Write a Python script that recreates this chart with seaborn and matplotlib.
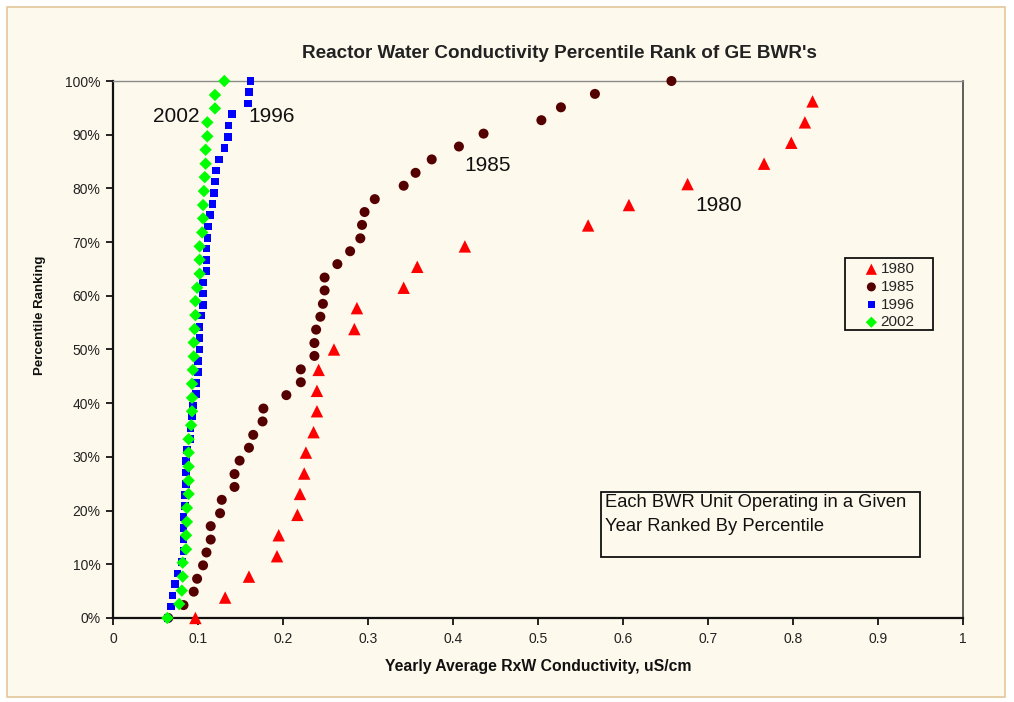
import matplotlib
matplotlib.use("Agg")
import matplotlib.pyplot as plt
import seaborn as sns
from matplotlib.patches import Rectangle
from matplotlib.ticker import FuncFormatter

# ---------------- data ----------------
series_names = ["1980", "1985", "1996", "2002"]

x_1980 = [0.097, 0.132, 0.160, 0.193, 0.195, 0.217, 0.220, 0.225, 0.227, 0.236,
          0.240, 0.240, 0.242, 0.260, 0.284, 0.287, 0.342, 0.358, 0.414, 0.559,
          0.607, 0.676, 0.766, 0.798, 0.814, 0.823]
y_1980 = [0.0, 3.8, 7.7, 11.5, 15.4, 19.2, 23.1, 26.9, 30.8, 34.6,
          38.5, 42.3, 46.2, 50.0, 53.8, 57.7, 61.5, 65.4, 69.2, 73.1,
          76.9, 80.8, 84.6, 88.5, 92.3, 96.2]

x_1985 = [0.065, 0.083, 0.095, 0.099, 0.106, 0.110, 0.115, 0.115, 0.126, 0.128,
          0.143, 0.143, 0.149, 0.160, 0.165, 0.176, 0.177, 0.204, 0.221, 0.221,
          0.237, 0.237, 0.239, 0.244, 0.247, 0.249, 0.249, 0.264, 0.279, 0.291,
          0.293, 0.296, 0.308, 0.342, 0.356, 0.375, 0.407, 0.436, 0.504, 0.527,
          0.567, 0.657]
y_1985 = [0.0, 2.4, 4.9, 7.3, 9.8, 12.2, 14.6, 17.1, 19.5, 22.0,
          24.4, 26.8, 29.3, 31.7, 34.1, 36.6, 39.0, 41.5, 43.9, 46.3,
          48.8, 51.2, 53.7, 56.1, 58.5, 61.0, 63.4, 65.9, 68.3, 70.7,
          73.2, 75.6, 78.0, 80.5, 82.9, 85.4, 87.8, 90.2, 92.7, 95.1,
          97.6, 100.0]

x_1996 = [0.064, 0.068, 0.070, 0.073, 0.076, 0.081, 0.083, 0.083, 0.083, 0.083,
          0.085, 0.085, 0.086, 0.086, 0.086, 0.087, 0.091, 0.091, 0.093, 0.094,
          0.098, 0.098, 0.100, 0.100, 0.102, 0.102, 0.102, 0.104, 0.106, 0.106,
          0.106, 0.110, 0.110, 0.110, 0.111, 0.112, 0.114, 0.117, 0.119, 0.120,
          0.121, 0.125, 0.131, 0.135, 0.136, 0.140, 0.159, 0.160, 0.162]
y_1996 = [0.0, 2.1, 4.2, 6.3, 8.3, 10.4, 12.5, 14.6, 16.7, 18.8,
          20.8, 22.9, 25.0, 27.1, 29.2, 31.3, 33.3, 35.4, 37.5, 39.6,
          41.7, 43.8, 45.8, 47.9, 50.0, 52.1, 54.2, 56.3, 58.3, 60.4,
          62.5, 64.6, 66.7, 68.8, 70.8, 72.9, 75.0, 77.1, 79.2, 81.3,
          83.3, 85.4, 87.5, 89.6, 91.7, 93.8, 95.8, 97.9, 100.0]

x_2002 = [0.064, 0.078, 0.081, 0.082, 0.082, 0.086, 0.086, 0.087, 0.087, 0.089,
          0.089, 0.089, 0.089, 0.089, 0.092, 0.093, 0.093, 0.093, 0.094, 0.095,
          0.095, 0.096, 0.097, 0.097, 0.099, 0.102, 0.102, 0.102, 0.105, 0.106,
          0.106, 0.107, 0.108, 0.109, 0.109, 0.111, 0.111, 0.120, 0.120, 0.131]
y_2002 = [0.0, 2.6, 5.1, 7.7, 10.3, 12.8, 15.4, 17.9, 20.5, 23.1,
          25.6, 28.2, 30.8, 33.3, 35.9, 38.5, 41.0, 43.6, 46.2, 48.7,
          51.3, 53.8, 56.4, 59.0, 61.5, 64.1, 66.7, 69.2, 71.8, 74.4,
          76.9, 79.5, 82.1, 84.6, 87.2, 89.7, 92.3, 94.9, 97.4, 100.0]

x_ticks = [0, 0.1, 0.2, 0.3, 0.4, 0.5, 0.6, 0.7, 0.8, 0.9, 1.0]
y_ticks = [0, 10, 20, 30, 40, 50, 60, 70, 80, 90, 100]

title = "Reactor Water Conductivity Percentile Rank of GE BWR's"
x_label = "Yearly Average RxW Conductivity, uS/cm"
y_label = "Percentile Ranking"
note_lines = ["Each BWR Unit Operating in a Given", "Year Ranked By Percentile"]

# ---------------- styling ----------------
BG = "#FDF9EC"
colors = {"1980": "#FF0000", "1985": "#550000", "1996": "#0000FF", "2002": "#00FF00"}
markers = {"1980": "^", "1985": "o", "1996": "s", "2002": "D"}
msize = {"1980": 80, "1985": 52, "1996": 30, "2002": 40}

sns.set_style("white")
plt.rcParams["font.family"] = ["Liberation Sans", "DejaVu Sans"]

fig = plt.figure(figsize=(10.14, 7.02), dpi=100, facecolor="white")
fig.patches.append(Rectangle((0.0069, 0.007), 0.984, 0.983, transform=fig.transFigure,
                             facecolor=BG, edgecolor="#E3C79A", lw=1.2, zorder=-10))

ax = fig.add_axes([0.1114, 0.1197, 0.8383, 0.7649])
ax.set_facecolor(BG)

data = {"1980": (x_1980, y_1980), "1985": (x_1985, y_1985),
        "1996": (x_1996, y_1996), "2002": (x_2002, y_2002)}
for i, name in enumerate(series_names):
    xs, ys = data[name]
    sns.scatterplot(x=xs, y=ys, ax=ax, marker=markers[name], color=colors[name],
                    s=msize[name], linewidth=0, edgecolor="none", label=name,
                    clip_on=False, zorder=3 + i)

ax.set_xlim(0, 1)
ax.set_ylim(0, 100)
ax.set_xticks(x_ticks)
ax.set_yticks(y_ticks)
ax.xaxis.set_major_formatter(FuncFormatter(lambda v, p: f"{v:g}"))
ax.yaxis.set_major_formatter(FuncFormatter(lambda v, p: f"{v:.0f}%"))
ax.tick_params(axis="both", which="major", direction="out", length=5, width=1.2,
               color="black", labelsize=10, labelcolor="#222222")
ax.tick_params(axis="x", pad=5)
ax.tick_params(axis="y", pad=4)
ax.tick_params(top=False, right=False, bottom=True, left=True)

for side in ("left", "bottom"):
    ax.spines[side].set_color("#111111")
    ax.spines[side].set_linewidth(1.6)
ax.spines["top"].set_color("#8A8A8A")
ax.spines["top"].set_linewidth(1.0)
ax.spines["right"].set_color("#444444")
ax.spines["right"].set_linewidth(1.2)

ax.set_xlabel(x_label, fontsize=11.3, fontweight="bold", color="#111111")
ax.xaxis.set_label_coords(0.5, -0.076)
ax.set_ylabel(y_label, fontsize=9.5, fontweight="bold", color="#111111")
ax.yaxis.set_label_coords(-0.086, 0.564)
ax.yaxis.label.set_va("center")

fig.text(559.5 / 1014, 1 - 53.5 / 702, title, ha="center", va="center",
         fontsize=13.6, fontweight="bold", color="#222222")

# series annotations
ann = [("2002", 0.074, 0.934), ("1996", 0.1865, 0.934),
       ("1985", 0.441, 0.843), ("1980", 0.713, 0.768)]
for txt, xa, ya in ann:
    ax.text(xa, ya, txt, transform=ax.transAxes, ha="center", va="center",
            fontsize=15, color="#111111")

# note box
ax.add_patch(Rectangle((0.5738, 0.114), 0.3756, 0.121, transform=ax.transAxes,
                       facecolor="none", edgecolor="#111111", lw=1.3, zorder=2))
ax.text(0.579, 0.2145, note_lines[0], transform=ax.transAxes, ha="left", va="center",
        fontsize=13.2, color="#111111")
ax.text(0.579, 0.1695, note_lines[1], transform=ax.transAxes, ha="left", va="center",
        fontsize=13.2, color="#111111")

# legend: frame drawn as its own rectangle, entries placed inside it
ax.add_patch(Rectangle((0.8612, 0.5363), 0.1035, 0.134, transform=ax.transAxes,
                       facecolor=BG, edgecolor="#111111", lw=1.3, zorder=8))
leg = ax.legend(loc="upper left", bbox_to_anchor=(0.885, 0.6625), borderaxespad=0,
                frameon=False, fontsize=11, handlelength=0.8,
                handletextpad=0.2, labelspacing=0.24, borderpad=0,
                markerscale=0.9)
leg.set_zorder(9)

fig.savefig("out.png", dpi=100, facecolor=fig.get_facecolor())
